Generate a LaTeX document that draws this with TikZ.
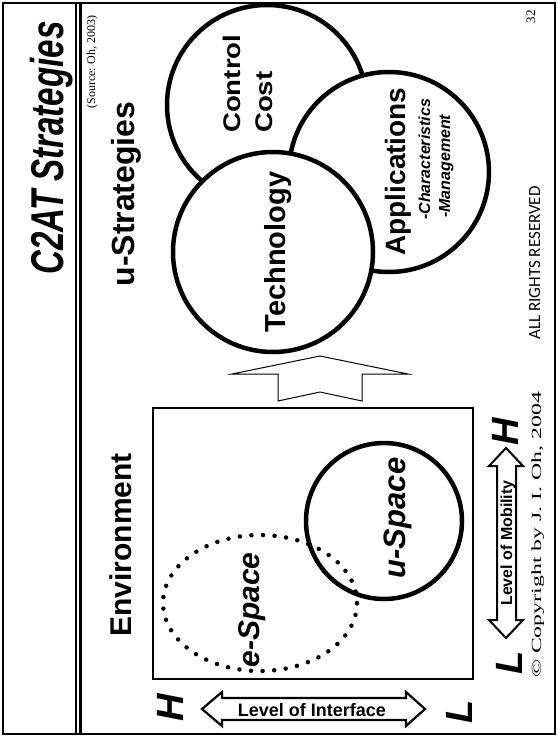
\documentclass[tikz,border=0pt]{standalone}
\usepackage{fontspec}
\setmainfont{Liberation Serif}
\newfontfamily\arialf{Liberation Sans}
\newfontfamily\calibf{Carlito}
\newcommand{\fsz}[1]{\fontsize{#1}{#1}\selectfont}
\begin{document}
\begin{tikzpicture}[x=1pt,y=-1pt,
  circ/.style={circle, draw, line width=4.5pt, fill=white, minimum size=200pt, inner sep=0pt},
  rot/.style={rotate=90, anchor=base, inner sep=0pt},
  rotw/.style={rotate=90, anchor=base west, inner sep=0pt},
  hollow/.style={draw, line width=2.2pt, fill=white, line join=miter},
  dotline/.style={line width=4.5pt, line cap=round, dash pattern=on 0pt off 11.6pt}]
\useasboundingbox (0,0) rectangle (557,737);
\fill[white] (0,0) rectangle (557,737);
% frame and title bar
\node[draw, line width=2.5pt, minimum width=552pt, minimum height=731pt, inner sep=0pt] (frame) at (279,368.5) {};
\draw[line width=2.3pt] (76.2,3) -- (76.2,734);
\draw[line width=2.3pt] (80.5,3) -- (80.5,734);
\node[rot, font=\arialf\bfseries\itshape\fsz{46}] (title) at (63,148) {\scalebox{0.72}[1]{C2AT Strategies}};
\node[rot, font=\fsz{12}] (source) at (95,62) {(Source: Oh, 2003)};
\node[rot, font=\arialf\bfseries\fsz{32}] (ustrat) at (134,194) {u-Strategies};
\node[rot, font=\arialf\bfseries\fsz{30}] (envlabel) at (131,545) {Environment};
% strategy circles
\node[circ] (cc) at (267,105) {};
\node[circ] (app) at (389,172) {};
\node[circ] (tech) at (273,252) {};
\node[rotw, font=\arialf\bfseries\fsz{24}] (control) at (240,133) {\scalebox{1.15}[1]{Control}};
\node[rotw, font=\arialf\bfseries\fsz{24}] (cost) at (272,133) {\scalebox{1.15}[1]{Cost}};
\node[rot, font=\arialf\bfseries\fsz{29}] (techlabel) at (285,252) {Technology};
\node[rot, font=\arialf\bfseries\fsz{28}] (applabel) at (405,171.5) {Applications};
\node[rotw, font=\arialf\bfseries\itshape\fsz{16}] (charact) at (430,220) {-Characteristics};
\node[rotw, font=\arialf\bfseries\itshape\fsz{16}] (manage) at (450,218) {-Management};
% big hollow arrow
\draw[line width=1pt, fill=white, line join=miter] (320,356) -- (408,374) -- (362,374) -- (362,401) -- (320,392) -- (278,401) -- (278,374) -- (232,374) -- cycle;
% environment box
\node[draw, line width=2pt, minimum width=320pt, minimum height=271pt, inner sep=0pt] (env) at (313,543.5) {};
\draw[dotline] (260,603) ellipse [x radius=97pt, y radius=68pt];
\node[circle, draw, line width=4.5pt, minimum size=156pt, inner sep=0pt] (uspace) at (384,521) {};
\node[rot, font=\arialf\bfseries\itshape\fsz{30}] (elabel) at (259,610) {e-Space};
\node[rot, font=\arialf\bfseries\itshape\fsz{31}] (ulabel) at (405,518) {u-Space};
% level of interface
\draw[hollow] (202,709) -- (222,692) -- (222,698) -- (406,698) -- (406,692) -- (425,709) -- (406,726) -- (406,720) -- (222,720) -- (222,726) -- cycle;
\node[anchor=base, inner sep=0pt, font=\arialf\bfseries\fsz{18}] (interface) at (312,716.5) {Level of Interface};
\node[rot, font=\arialf\bfseries\itshape\fsz{38}] (ih) at (183,708) {H};
\node[rot, font=\arialf\bfseries\itshape\fsz{38}] (il) at (472,712) {L};
% level of mobility
\draw[hollow, line width=2pt] (506,448) -- (523,466) -- (516,466) -- (516,620) -- (523,620) -- (506,638) -- (489,620) -- (497,620) -- (497,466) -- (489,466) -- cycle;
\node[rot, font=\arialf\bfseries\fsz{16}] (mobility) at (512,543) {Level of Mobility};
\node[rot, font=\arialf\bfseries\itshape\fsz{38}] (ml) at (522,663) {L};
\node[rot, font=\arialf\bfseries\itshape\fsz{38}] (mh) at (518,432) {H};
% footer
\node[rot, font=\fsz{14}] (copy) at (541,535) {\scalebox{1.7}[1]{© Copyright by J. I. Oh, 2004}};
\node[rot, font=\calibf\fsz{17}] (rights) at (540,263) {ALL RIGHTS RESERVED};
\node[rot, font=\fsz{13}] (page) at (535,16.5) {32};
\end{tikzpicture}
\end{document}
